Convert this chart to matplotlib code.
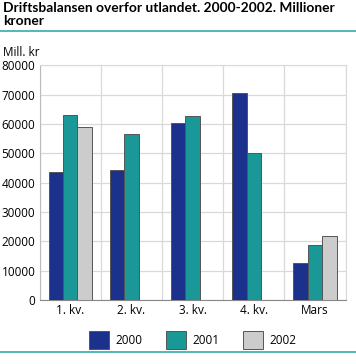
import numpy as np
import matplotlib
matplotlib.use("Agg")
import matplotlib.pyplot as plt
from matplotlib.lines import Line2D

categories = ["1. kv.", "2. kv.", "3. kv.", "4. kv.", "Mars"]
series_names = ["2000", "2001", "2002"]
v2000 = [43500, 44200, 60500, 70700, 12500]
v2001 = [63200, 56800, 62800, 50100, 18600]
v2002 = [59000, np.nan, np.nan, np.nan, 21700]
yticks = [0, 10000, 20000, 30000, 40000, 50000, 60000, 70000, 80000]

colors = ["#1b318b", "#1a9898", "#cccccc"]

plt.rcParams['font.family'] = ['Open Sans', 'DejaVu Sans']

W, H = 356, 364
fig = plt.figure(figsize=(W/100, H/100), dpi=100)
ax = fig.add_axes([39.5/W, 1-300/H, (345.7-39.5)/W, (300-65.5)/H])

x = np.arange(len(categories))
bw = 0.235
for i, (vals, c) in enumerate(zip([v2000, v2001, v2002], colors)):
    ax.bar(x + (i-1)*bw, vals, width=bw, color=c, edgecolor="#555555",
           linewidth=0.7, label=series_names[i], zorder=3)

ax.set_xlim(-0.5, len(categories)-0.5)
ax.set_ylim(0, 80000)
ax.set_yticks(yticks)
ax.set_yticklabels([str(t) for t in yticks], fontsize=8.5)
ax.set_xticks(x)
ax.set_xticklabels(categories, fontsize=8.5)
ax.tick_params(length=0, pad=3)
ax.set_xticks(np.arange(len(categories)+1)-0.5, minor=True)
ax.tick_params(which='minor', length=0)
ax.grid(axis='y', which='major', color="#d9d9d9", linewidth=0.9, zorder=0)
ax.grid(axis='x', which='minor', color="#d9d9d9", linewidth=0.9, zorder=0)
for s in ax.spines.values():
    s.set_color("#d9d9d9")
ax.spines['left'].set_color("#bbbbbb")
ax.spines['bottom'].set_color("#888888")

fig.text(3/W, 1-2/H, "Driftsbalansen overfor utlandet. 2000-2002. Millioner\nkroner",
         fontsize=9.9, fontweight='bold', family=['Lato', 'DejaVu Sans'],
         va='top', ha='left', linespacing=1.1)
fig.add_artist(Line2D([0, 1], [1-31/H, 1-31/H], color="#3aa9a9", linewidth=1.2))
fig.add_artist(Line2D([0, 1], [1-352/H, 1-352/H], color="#3aa9a9", linewidth=1.2))
fig.text(3/W, 1-52/H, "Mill. kr", fontsize=8.5, va='center', ha='left')

fig.legend(loc='center', bbox_to_anchor=((39.5+345.7)/2/W, 1-340/H), ncol=3, frameon=False,
           fontsize=8.5, handlelength=1.7, handleheight=1.9, handletextpad=0.55,
           columnspacing=2.0)

fig.savefig("out.png", dpi=100)
